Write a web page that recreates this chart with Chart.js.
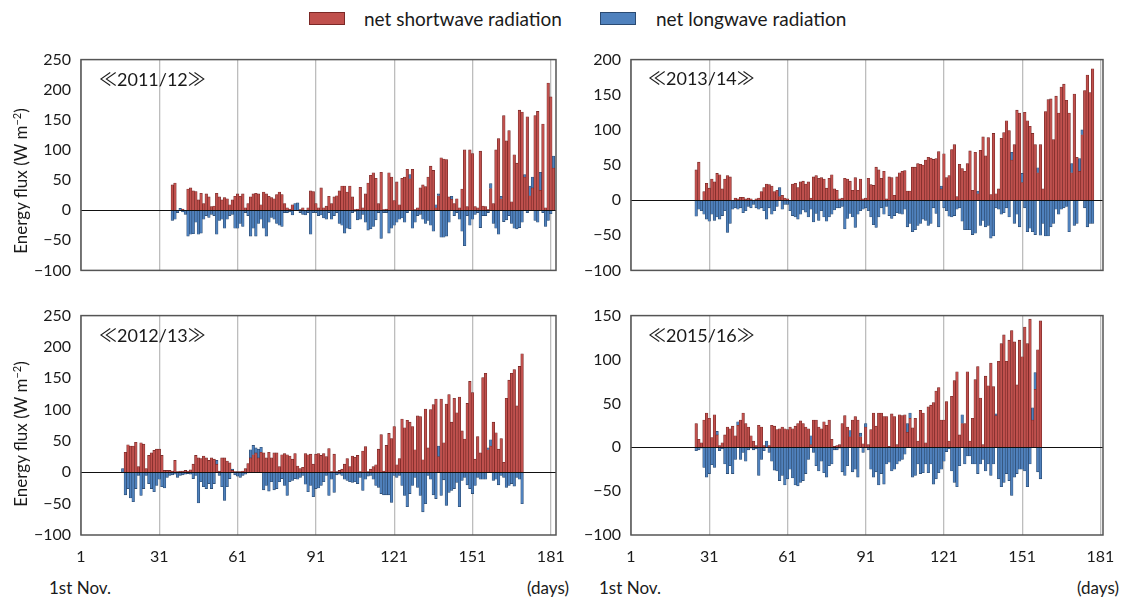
<!DOCTYPE html>
<html>
<head>
<meta charset="utf-8">
<script src="https://cdn.jsdelivr.net/npm/chart.js@4.4.0/dist/chart.umd.min.js"></script>
<style>
  html, body { margin: 0; padding: 0; background: #fff; }
  body { width: 1132px; height: 601px; position: relative; overflow: hidden;
         font-family: Lato, "Noto Sans", sans-serif; color: #1a1a1a; }
  canvas { position: absolute; }
  .txt { position: absolute; white-space: nowrap; font-size: 17px; line-height: 1; }
  .lab { position: absolute; white-space: nowrap; font-size: 18px; line-height: 1;
         font-family: Lato, "Noto Sans CJK JP", sans-serif; }
  .sw { position: absolute; width: 36px; height: 13px; box-sizing: border-box; }
  .ytitle { position: absolute; white-space: nowrap; font-size: 17px; line-height: 1;
            transform: translate(-50%, -50%) rotate(-90deg); }
</style>
</head>
<body>
<div class="sw" style="left:309px;top:12px;background:#c0504d;border:1px solid #7b2826;"></div>
<div class="txt" style="left:364px;top:9px;font-size:19px;">net shortwave radiation</div>
<div class="sw" style="left:600px;top:12px;background:#4f81bd;border:1px solid #2a4a72;"></div>
<div class="txt" style="left:656px;top:9px;font-size:19px;">net longwave radiation</div>

<canvas id="c1"></canvas>
<canvas id="c2"></canvas>
<canvas id="c3"></canvas>
<canvas id="c4"></canvas>

<div class="lab" style="left:99px;top:70px;">≪2011/12≫</div>
<div class="lab" style="left:648px;top:69px;">≪2013/14≫</div>
<div class="lab" style="left:99px;top:326px;">≪2012/13≫</div>
<div class="lab" style="left:648px;top:326px;">≪2015/16≫</div>

<div class="ytitle" style="left:20px;top:181px;">Energy flux (W m<sup style="font-size:11px;">−2</sup>)</div>
<div class="ytitle" style="left:20px;top:434px;">Energy flux (W m<sup style="font-size:11px;">−2</sup>)</div>

<div class="txt" style="left:49px;top:579px;">1st Nov.</div>
<div class="txt" style="left:527px;top:579px;">(days)</div>
<div class="txt" style="left:599px;top:579px;">1st Nov.</div>
<div class="txt" style="left:1077px;top:579px;">(days)</div>

<script>
// ---- data ----
const dayTicks = [1, 31, 61, 91, 121, 151, 181];

const start2011 = 36;
const sw2011 = [42,45,0,0,2,0,35,37,32,31,17,28,11,27,22,6,7,28,22,17,21,19,9,17,23,27,23,27,4,11,22,27,28,27,9,30,27,23,21,19,26,30,26,11,4,2,9,0,0,1,4,0,4,32,31,11,4,37,4,7,23,11,22,24,32,40,40,30,
  40,22,1,2,38,4,27,45,58,62,53,11,63,1,2,62,55,16,47,9,53,55,68,52,68,1,4,37,42,39,55,73,66,4,24,87,85,84,22,18,11,19,4,35,100,6,100,94,6,4,98,7,6,1,36,11,100,119,19,157,115,132,14,92,78,166,163,55,155,24,37,157,164,33,143,4,211,188,70];
const lw2011 = [-17,-15,-4,3,-3,-7,-43,-40,-39,-20,-40,-38,-15,-9,-12,-7,-9,-40,-17,-15,-30,-15,-9,-7,-30,-30,-22,-27,-4,-9,-43,-30,-43,-22,-15,-30,-43,-20,-12,-15,-22,-25,-27,-4,-4,-3,-8,11,12,-4,-7,-8,-4,-40,-4,-4,-9,-8,-13,-15,-4,-15,-9,-4,-22,-25,-38,-30,
  -31,-4,-2,-16,-15,-7,-20,-33,-31,-27,-16,-4,-47,-4,-4,-38,-30,-25,-20,-15,-13,-20,-4,7,-30,-20,-9,-7,-15,-22,-17,-25,-35,5,3,-45,-45,-43,-20,5,-9,-4,-15,-35,-59,-9,-25,-15,-7,-4,-29,-9,-9,-4,8,-22,-30,-40,4,-19,-16,-9,-22,-30,-31,-29,-20,4,-4,16,18,-17,-20,30,-4,-27,-17,-6,20];

const start2013 = 26;
const sw2013 = [43,54,0,12,24,17,30,26,38,36,16,30,35,33,0,3,2,4,4,2,3,2,0,2,3,12,18,23,22,20,12,14,5,7,3,2,0,23,24,18,26,27,23,26,3,33,35,31,32,30,17,31,36,16,14,2,3,31,30,27,14,32,14,30,2,3,31,22,21,47,43,31,41,2,33,32,
  7,33,39,41,42,13,13,47,47,52,51,50,57,61,60,58,59,69,16,66,32,35,72,79,5,51,45,41,52,70,14,68,9,71,90,63,89,8,95,9,16,88,96,113,99,57,79,128,124,25,125,113,105,95,79,39,79,16,126,143,144,86,148,124,161,165,142,124,39,151,61,41,93,156,178,153,187];
const lw2013 = [-23,-13,-15,-20,-27,-30,-20,-29,-24,-27,-22,-15,-46,-33,-13,-11,-13,-11,-18,-15,-9,-11,-6,-11,-13,-11,-15,-27,-11,-20,-15,-9,13,-13,-6,-6,-15,-22,-24,-27,-20,-14,-17,-24,-13,-31,-19,-29,-15,-24,-30,-24,-20,-14,-11,-11,-9,-41,-26,-19,-24,-39,-20,-15,-13,-11,-15,-24,-35,-39,-24,-11,-20,-9,-22,-26,
  -22,-18,-19,-20,-13,-38,-33,-45,-42,-36,-33,-27,-29,-36,-33,-11,-19,-38,4,-11,-15,-23,-24,-22,-13,-11,-30,-42,-42,-42,-49,-47,4,-36,-29,-38,-36,-54,-51,-11,-13,-20,-18,-11,-24,11,-33,-20,-38,13,-11,-45,-40,-45,-49,7,-50,-33,-51,-51,-38,-33,-13,-20,-13,-11,-9,-45,13,-36,-33,18,7,-11,-38,-33,-33];

const start2012 = 17;
const sw2012 = [0,32,44,42,42,48,9,47,45,6,27,31,35,37,37,27,3,3,3,2,19,1,2,2,3,2,4,13,27,23,22,26,23,19,23,21,13,2,23,23,18,15,3,1,1,1,2,6,14,23,28,31,23,32,31,23,32,23,31,31,9,28,30,28,26,21,30,10,6,8,30,28,
  29,13,29,30,27,30,25,38,1,29,1,3,5,13,22,9,26,24,27,1,34,41,1,5,9,12,37,60,2,43,62,54,73,12,22,85,71,83,80,73,36,90,89,20,101,39,100,108,117,25,117,47,109,124,80,118,95,120,66,53,110,145,127,21,57,31,151,158,36,42,80,63,37,54,16,118,147,158,164,106,169,189];
const lw2012 = [6,-36,-26,-41,-47,-26,-5,-37,-26,-5,-18,-26,-31,-21,-11,-23,-25,-8,-5,-4,-3,-8,-5,-4,-3,-2,-3,-10,-5,-49,-15,-23,-26,-18,-26,-18,6,-5,-23,-45,-23,-10,2,-4,-6,-8,-5,-3,-1,13,15,8,14,8,-28,-21,-30,-15,-28,-26,-15,-10,-21,-37,-15,-13,-10,-11,-8,-5,-19,-31,
  -21,-39,-26,-25,-21,-15,-5,-37,-11,-32,-4,-3,-5,-11,-13,-15,-16,-15,-18,-8,-29,-11,-6,-5,-11,-21,-24,-34,-36,-36,-36,-48,-5,-8,-5,-21,-37,-55,-34,-21,-8,-24,-37,-63,-50,-5,-11,-36,-42,17,-37,-12,-53,-32,-29,-26,-16,-55,-13,-8,-20,-26,-34,-21,-8,-11,-11,-11,3,10,-13,-11,-20,-5,-8,-24,-21,-18,-22,-8,-11,-50];

const start2015 = 26;
const sw2015 = [27,9,5,31,39,33,11,37,14,2,5,14,23,21,24,13,25,31,39,27,23,13,7,2,25,23,2,0,2,25,24,20,21,23,21,20,23,21,24,27,30,27,23,21,3,31,31,23,21,29,25,31,9,1,2,3,27,36,23,12,31,35,31,12,4,23,3,20,39,24,39,
  39,35,35,1,38,35,3,37,36,37,17,33,22,33,7,42,39,5,46,48,51,64,68,31,31,52,7,58,76,86,14,27,27,86,7,33,77,92,56,3,81,70,96,69,36,98,118,128,98,122,133,120,71,122,103,137,118,146,31,66,111,144];
const lw2015 = [-4,-3,-1,-23,-34,-30,-20,-23,4,-4,-2,-19,-30,-21,-30,-14,4,-14,-6,-16,-3,-1,-3,-2,-32,-14,-4,7,-6,-16,-26,-27,-38,-32,-43,-36,-25,-35,-43,-44,-40,-38,-30,-14,10,-6,-21,-27,-16,-29,-34,-21,-19,-3,-3,-1,-28,-32,-21,7,-28,-25,-34,4,-6,4,-3,-25,-34,-28,-43,
  -30,-42,-19,-17,-27,-25,-19,-16,-14,-8,10,6,-34,-32,-19,-30,-29,-19,-29,-19,-42,-36,-29,-25,-16,-5,-2,-27,-40,-45,-21,10,-19,-10,-10,-19,-19,-30,-19,-14,-27,-19,-32,-19,2,-36,-45,-40,-30,-38,-55,-34,-30,-25,-25,-27,-45,-19,14,19,-28,-36];

// ---- layout / style ----
Chart.defaults.font.family = 'Lato, "Noto Sans", sans-serif';
Chart.defaults.color = '#1a1a1a';

const framePlugin = {
  id: 'frame',
  afterDatasetsDraw(chart) {
    const { ctx, chartArea: a, scales } = chart;
    const y0 = Math.round(scales.y.getPixelForValue(0)) + 0.5;
    ctx.save();
    ctx.strokeStyle = '#111';
    ctx.lineWidth = 1;
    ctx.beginPath();
    ctx.moveTo(a.left, y0);
    ctx.lineTo(a.right, y0);
    ctx.stroke();
    ctx.strokeStyle = '#555';
    ctx.lineWidth = 1.5;
    ctx.strokeRect(a.left, a.top, a.right - a.left, a.bottom - a.top);
    ctx.restore();
  }
};

const panels = [
  { id: 'c1', start: start2011, sw: sw2011, lw: lw2011, yMin: -100, yMax: 250, xMax: 183, showX: false,
    box: [0, 40, 600, 250], plot: [81, 54, 556, 278] },
  { id: 'c2', start: start2013, sw: sw2013, lw: lw2013, yMin: -100, yMax: 200, xMax: 182, showX: false,
    box: [560, 40, 572, 250], plot: [631, 55, 1103, 278] },
  { id: 'c3', start: start2012, sw: sw2012, lw: lw2012, yMin: -100, yMax: 250, xMax: 183, showX: true,
    box: [0, 296, 600, 280], plot: [81, 309, 556, 535] },
  { id: 'c4', start: start2015, sw: sw2015, lw: lw2015, yMin: -100, yMax: 150, xMax: 182, showX: true,
    box: [560, 296, 572, 280], plot: [631, 309, 1103, 535] }
];

function build(p) {
  const cv = document.getElementById(p.id);
  const [L, T, W, H] = p.box;
  const [pl, pt, pr, pb] = p.plot;
  cv.width = W; cv.height = H;
  cv.style.left = L + 'px'; cv.style.top = T + 'px';
  cv.style.width = W + 'px'; cv.style.height = H + 'px';
  const pts = arr => arr.map((v, i) => ({ x: p.start + i, y: v }));
  new Chart(cv, {
    type: 'bar',
    data: {
      datasets: [
        { label: 'net shortwave radiation', data: pts(p.sw), backgroundColor: '#c0504d',
          borderColor: '#6e2321', borderWidth: 0.6 },
        { label: 'net longwave radiation', data: pts(p.lw), backgroundColor: '#4f81bd',
          borderColor: '#274569', borderWidth: 0.6 }
      ]
    },
    options: {
      responsive: false,
      animation: false,
      devicePixelRatio: 1,
      layout: { padding: { left: 0, top: pt - T, right: L + W - pr, bottom: 0 } },
      plugins: { legend: { display: false }, tooltip: { enabled: false } },
      datasets: { bar: { barPercentage: 1, categoryPercentage: 1 } },
      scales: {
        x: {
          type: 'linear', min: 1, max: p.xMax, stacked: true, offset: false,
          afterBuildTicks: s => { s.ticks = dayTicks.map(v => ({ value: v })); },
          afterFit: s => { s.height = T + H - pb; },
          grid: { color: '#bdbdbd', lineWidth: 1.3, drawTicks: false, offset: false },
          border: { display: false },
          ticks: { display: p.showX, padding: 12, font: { size: 16 }, color: '#1a1a1a',
                   maxRotation: 0, autoSkip: false }
        },
        y: {
          min: p.yMin, max: p.yMax, stacked: true,
          afterFit: s => { s.width = pl - L; },
          grid: { display: false, drawTicks: false },
          border: { display: false },
          ticks: { stepSize: 50, padding: 10, font: { size: 16 }, color: '#1a1a1a',
                   callback: v => String(v).replace('-', '\u2212') }
        }
      }
    },
    plugins: [framePlugin]
  });
}

panels.forEach(build);
</script>
</body>
</html>
